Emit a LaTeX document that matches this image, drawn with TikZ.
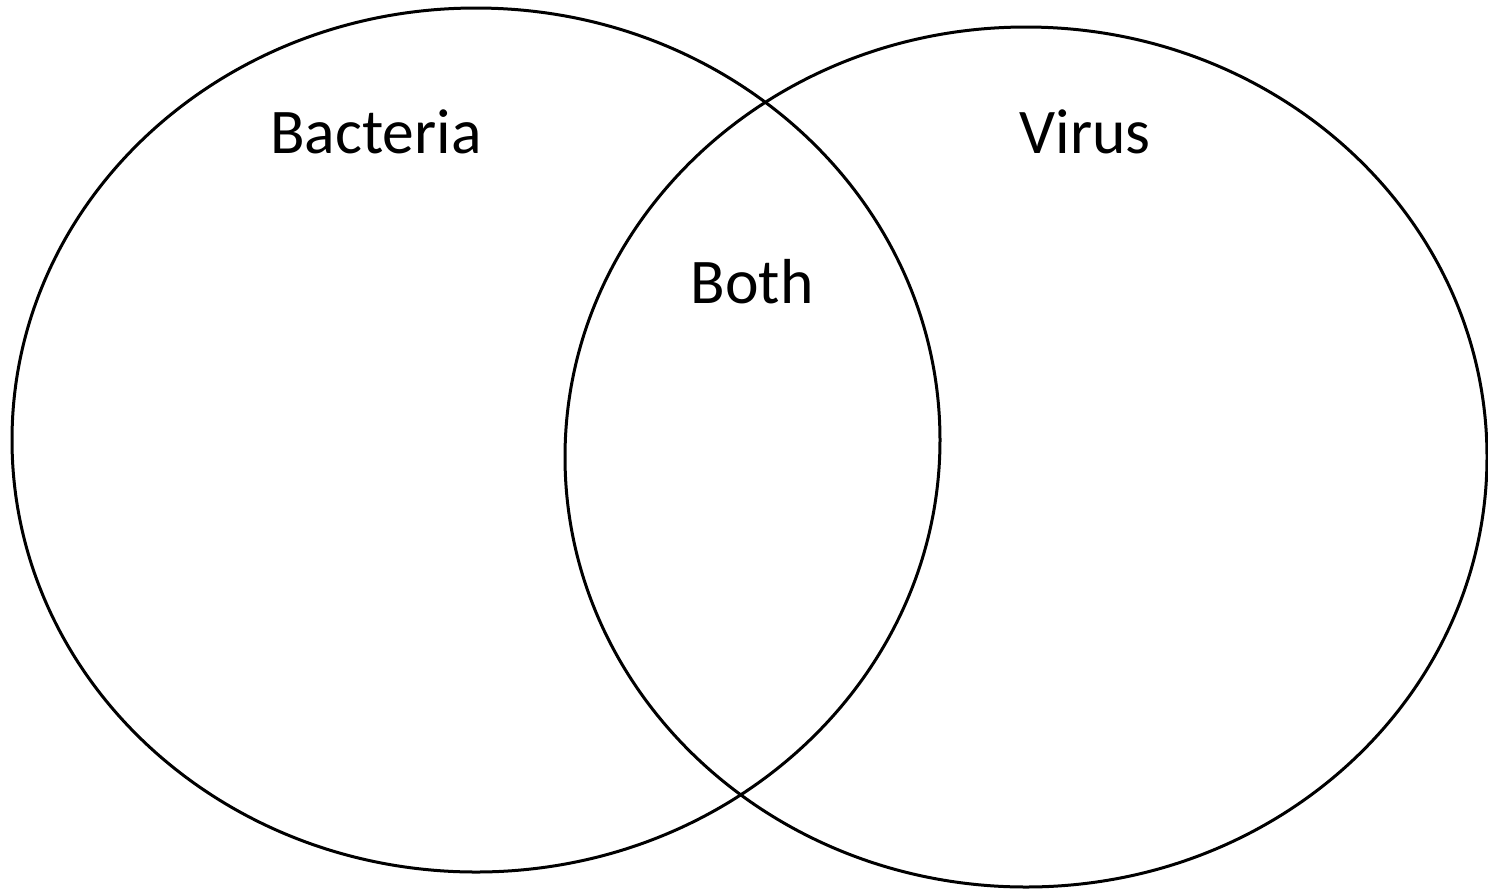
\documentclass[tikz,border=0pt]{standalone}
\usepackage{fontspec}
\setmainfont{Carlito}
\begin{document}
\begin{tikzpicture}[x=0.5pt,y=-0.5pt,
  ring/.style={draw=black,line width=1.5pt},
  lbl/.style={anchor=base,inner sep=0pt,font=\fontsize{31.8}{38}\selectfont}]
\useasboundingbox (0,0) rectangle (1488,890);
\draw[ring] (476,440) ellipse [x radius=464, y radius=432];
\draw[ring] (1026,457) ellipse [x radius=461, y radius=430];
\node[lbl] (bact) at (376,153) {Bacteria};
\node[lbl] (vir) at (1085,153) {Virus};
\node[lbl] (both) at (752,303) {Both};
\end{tikzpicture}
\end{document}
